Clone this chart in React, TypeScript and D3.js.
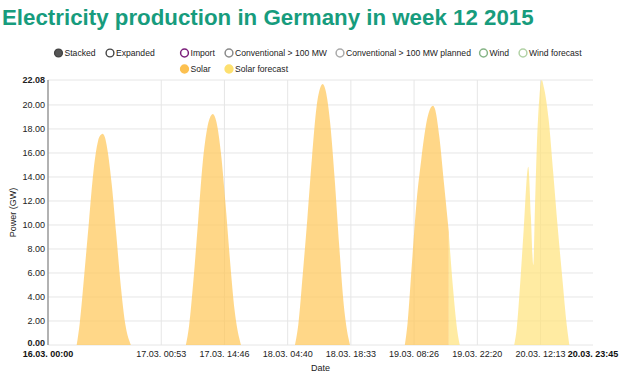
import React from "react";
import * as d3 from "d3";

// ---------- data ----------
const title = "Electricity production in Germany in week 12 2015";
const controlLabels = ["Stacked", "Expanded"];
const seriesLabels = [
  "Import",
  "Conventional > 100 MW",
  "Conventional > 100 MW planned",
  "Wind",
  "Wind forecast",
  "Solar",
  "Solar forecast",
];
const yTicks = [0, 2, 4, 6, 8, 10, 12, 14, 16, 18, 20];
const yMax = 22.08;
const xStartLabel = "16.03. 00:00";
const xEndLabel = "20.03. 23:45";
const xTickLabels = [
  "17.03. 00:53",
  "17.03. 14:46",
  "18.03. 04:40",
  "18.03. 18:33",
  "19.03. 08:26",
  "19.03. 22:20",
  "20.03. 12:13",
];

// Solar (actual), [hour of day, GW]
const solar16: [number, number][] = [
  [6.3, 0], [7, 1.9], [8, 6.0], [9, 10.3], [10, 14.5], [11, 17.0], [11.75, 17.55], [12, 17.6],
  [12.5, 17.3], [13, 16.4], [14, 13.4], [15, 9.2], [16, 4.9], [17, 1.7], [18, 0.2], [18.2, 0],
];
const solar17: [number, number][] = [
  [6.3, 0], [7, 1.6], [8, 5.6], [9, 10.4], [10, 15.2], [11, 18.1], [12, 19.2], [12.2, 19.25],
  [13, 18.6], [14, 16.0], [15, 11.8], [16, 7.0], [17, 2.9], [18, 0.6], [18.4, 0],
];
const solar18: [number, number][] = [
  [6.27, 0], [7, 1.7], [8, 6.0], [9, 10.6], [10, 15.6], [11, 19.8], [12, 21.6], [12.35, 21.75],
  [13, 21.2], [14, 18.5], [15, 13.8], [16, 8.2], [17, 3.3], [18, 0.6], [18.35, 0],
];
const solar19: [number, number][] = [
  [6.4, 0], [7, 1.8], [8, 7.0], [9, 12.0], [10, 15.4], [11, 18.2], [12, 19.7], [12.6, 19.94],
  [13, 19.7], [14, 17.3], [15, 13.5], [16.07, 9.4],
];
// Solar forecast, [hour of day, GW]
const forecast19: [number, number][] = [
  [16.07, 9.3], [17, 4.7], [18, 1.0], [18.47, 0],
];
const forecast20: [number, number][] = [
  [6.45, 0], [7, 1.4], [7.8, 5.4], [8.5, 9.5], [9.53, 14.86], [10.1, 10.7], [10.63, 6.67],
  [11.0, 11.5], [11.38, 16.25], [12.0, 20.8], [12.48, 22.08], [13, 21.4], [14, 18.8],
  [15, 14.4], [16, 9.8], [17, 5.6], [18, 1.6], [18.55, 0],
];

// ---------- helpers ----------
const dayDate = (day: number, hour: number) =>
  new Date(new Date(2015, 2, day, 0, 0).getTime() + hour * 3600 * 1000);
const parseLabel = (s: string) => {
  const d = d3.timeParse("%d.%m. %H:%M")(s)!;
  d.setFullYear(2015);
  return d;
};

type Pt = { t: Date; v: number };
const toPts = (day: number, pts: [number, number][]): Pt[] =>
  pts.map(([h, v]) => ({ t: dayDate(day, h), v }));

const solarDays: Pt[][] = [
  toPts(16, solar16),
  toPts(17, solar17),
  toPts(18, solar18),
  toPts(19, solar19),
];
const forecastDays: Pt[][] = [toPts(19, forecast19), toPts(20, forecast20)];

// ---------- layout ----------
const W = 620;
const H = 375;
const left = 48;
const right = 593;
const top = 80;
const bottom = 345;
const FONT = "'Liberation Sans', Arial, Helvetica, sans-serif";
const TITLE_COLOR = "#179c7d";
const GRID = "#e6e6e6";

const seriesStyle = [
  { fill: "none", stroke: "#7b1f7b" },
  { fill: "none", stroke: "#8a8a8a" },
  { fill: "none", stroke: "#aaaaaa" },
  { fill: "none", stroke: "#86b486" },
  { fill: "none", stroke: "#b2d2a6" },
  { fill: "#fcc050", stroke: "#fcc050" },
  { fill: "#fde070", stroke: "#fde070" },
];
const legendCols = [184.5, 229, 340, 483.5, 523];
const legendRows = [53, 69];
const controlX = [58.5, 110];

export default function App() {
  const x = d3
    .scaleTime()
    .domain([parseLabel(xStartLabel), parseLabel(xEndLabel)])
    .range([left, right]);
  const y = d3.scaleLinear().domain([0, yMax]).range([bottom, top]);

  const area = d3
    .area<Pt>()
    .x((d) => x(d.t))
    .y0(y(0))
    .y1((d) => y(d.v))
    .curve(d3.curveMonotoneX);

  return (
    <svg
      width={W}
      height={H}
      style={{ position: "absolute", left: 0, top: 0, background: "#fff" }}
      fontFamily={FONT}
    >
      <text x={2} y={25} fontSize={22.3} fontWeight="bold" fill={TITLE_COLOR}>
        {title}
      </text>

      {/* controls legend */}
      {controlLabels.map((l, i) => (
        <g key={l}>
          <circle
            cx={controlX[i]}
            cy={legendRows[0]}
            r={3.9}
            fill={i === 0 ? "#555" : "none"}
            stroke="#444"
            strokeWidth={1.4}
          />
          <text x={controlX[i] + 6} y={legendRows[0]} dy="0.35em" fontSize={8.6} fill="#222">
            {l}
          </text>
        </g>
      ))}

      {/* series legend */}
      {seriesLabels.map((l, i) => {
        const cx = legendCols[i % 5];
        const cy = legendRows[Math.floor(i / 5)];
        const s = seriesStyle[i];
        return (
          <g key={l}>
            <circle cx={cx} cy={cy} r={3.9} fill={s.fill} stroke={s.stroke} strokeWidth={1.5} />
            <text x={cx + 6} y={cy} dy="0.35em" fontSize={8.6} fill="#222">
              {l}
            </text>
          </g>
        );
      })}

      {/* grid */}
      {[...yTicks, yMax].map((t) => (
        <line key={"h" + t} x1={left} x2={right} y1={y(t)} y2={y(t)} stroke={GRID} strokeWidth={1} />
      ))}
      {xTickLabels.map((l) => (
        <line
          key={"v" + l}
          x1={x(parseLabel(l))}
          x2={x(parseLabel(l))}
          y1={top}
          y2={bottom}
          stroke={GRID}
          strokeWidth={1}
        />
      ))}

      {/* areas */}
      {solarDays.map((d, i) => (
        <path key={"s" + i} d={area(d) || ""} fill="#ffc85a" fillOpacity={0.72} />
      ))}
      {forecastDays.map((d, i) => (
        <path key={"f" + i} d={area(d) || ""} fill="#ffe27a" fillOpacity={0.7} />
      ))}

      {/* y axis */}
      <line x1={left} x2={left} y1={top} y2={bottom} stroke="#999" strokeWidth={1.5} />
      {yTicks.map((t) => (
        <text
          key={"yl" + t}
          x={left - 3}
          y={y(t) - (t === 0 ? 1.5 : 0)}
          dy="0.3em"
          textAnchor="end"
          fontSize={9}
          fontWeight={t === 0 ? "bold" : "normal"}
          fill="#222"
        >
          {d3.format(".2f")(t)}
        </text>
      ))}
      <text x={left - 3} y={y(yMax)} dy="0.35em" textAnchor="end" fontSize={9} fontWeight="bold" fill="#222">
        {d3.format(".2f")(yMax)}
      </text>
      <text
        transform={`translate(12.5, ${(top + bottom) / 2}) rotate(-90)`}
        textAnchor="middle"
        dy="0.35em"
        fontSize={9}
        fill="#222"
      >
        Power (GW)
      </text>

      {/* x axis */}
      {xTickLabels.map((l) => (
        <text key={"xl" + l} x={x(parseLabel(l))} y={357} textAnchor="middle" fontSize={9} fill="#222">
          {l}
        </text>
      ))}
      <text x={x(parseLabel(xStartLabel))} y={357} textAnchor="middle" fontSize={9} fontWeight="bold" fill="#111">
        {xStartLabel}
      </text>
      <text x={x(parseLabel(xEndLabel))} y={357} textAnchor="middle" fontSize={9} fontWeight="bold" fill="#111">
        {xEndLabel}
      </text>
      <text x={(left + right) / 2} y={371} textAnchor="middle" fontSize={9} fill="#222">
        Date
      </text>
    </svg>
  );
}
